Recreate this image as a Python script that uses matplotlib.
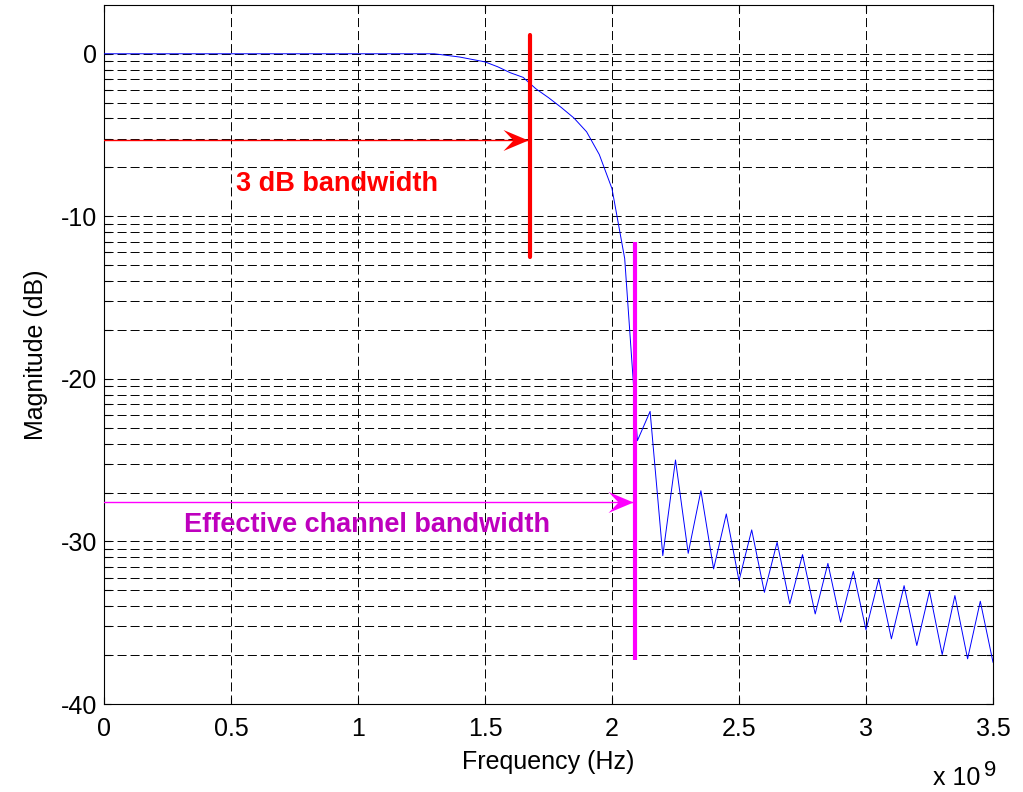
import numpy as np
import matplotlib
matplotlib.use('Agg')
import matplotlib.pyplot as plt
from matplotlib.path import Path
from matplotlib.ticker import FixedLocator

plt.rcParams['font.family'] = ['Liberation Sans', 'DejaVu Sans']
plt.rcParams['axes.unicode_minus'] = False

# Data: frequency in units of 1e9 Hz, magnitude in dB
freq = [0.00, 1.30, 1.35, 1.40, 1.45, 1.50, 1.55, 1.60, 1.65, 1.70, 1.75,
        1.80, 1.85, 1.90, 1.95, 2.00, 2.05, 2.10, 2.15, 2.20, 2.25, 2.30,
        2.35, 2.40, 2.45, 2.50, 2.55, 2.60, 2.65, 2.70, 2.75, 2.80, 2.85,
        2.90, 2.95, 3.00, 3.05, 3.10, 3.15, 3.20, 3.25, 3.30, 3.35, 3.40,
        3.45, 3.50]
mag = [0.0, 0.0, -0.1, -0.2, -0.35, -0.5, -0.8, -1.17, -1.45, -2.15, -2.7,
       -3.3, -3.95, -4.8, -6.2, -8.3, -12.6, -23.8, -22.0, -30.87, -24.99, -30.73,
       -26.88, -31.69, -28.31, -32.41, -29.29, -33.13, -30.05, -33.84, -30.81, -34.46, -31.35,
       -34.97, -31.84, -35.44, -32.31, -35.99, -32.72, -36.40, -33.07, -36.96, -33.33, -37.22,
       -33.68, -37.43]

# markers for the two bandwidths
bw3_freq = 1.679
bw3_span = [1.15, -12.5]
bw3_level = -5.3
eff_freq = 2.091
eff_span = [-11.55, -37.3]
eff_level = -27.6

xticks = [0, 0.5, 1, 1.5, 2, 2.5, 3, 3.5]
xticklabels = ['0', '0.5', '1', '1.5', '2', '2.5', '3', '3.5']
yticks = [-40, -30, -20, -10, 0]

fig = plt.figure(figsize=(10.23, 7.92), dpi=100)
ax = fig.add_axes([104 / 1023, 1 - 704 / 792, 889 / 1023, 699 / 792])

ax.plot(freq, mag, color='#0000FF', lw=0.7, zorder=3)

# notched arrow head, tip at the origin
head = Path([(0, 0), (-1, 0.42), (-0.6, 0), (-1, -0.42), (0, 0)],
            [Path.MOVETO, Path.LINETO, Path.LINETO, Path.LINETO, Path.CLOSEPOLY])

ax.plot([0, bw3_freq - 0.01], [bw3_level, bw3_level], color='#FF0000', lw=1, zorder=4)
ax.plot([bw3_freq - 0.01], [bw3_level], marker=head, ms=36, color='#FF0000',
        mec='none', zorder=4)
ax.plot([bw3_freq, bw3_freq], bw3_span, color='#FF0000', lw=3, zorder=5,
        solid_capstyle='round')

ax.plot([0, eff_freq - 0.01], [eff_level, eff_level], color='#FF00FF', lw=1, zorder=4)
ax.plot([eff_freq - 0.01], [eff_level], marker=head, ms=36, color='#FF00FF',
        mec='none', zorder=4)
ax.plot([eff_freq, eff_freq], eff_span, color='#FF00FF', lw=3, zorder=5,
        solid_capstyle='butt')

ax.text(0.52, -8.44, '3 dB bandwidth', color='#FF0000', fontsize=19.5,
        fontweight='bold', va='baseline', ha='left', zorder=6)
ax.text(0.315, -29.44, 'Effective channel bandwidth', color='#BE00BE', fontsize=19.5,
        fontweight='bold', va='baseline', ha='left', zorder=6)

ax.set_xlim(0, 3.5)
ax.set_ylim(-40, 3)
ax.set_xticks(xticks)
ax.set_xticklabels(xticklabels)
ax.set_yticks(yticks)

# log-style minor grid within each 10 dB decade
minor = []
for top in [0, -10, -20, -30]:
    for k in range(2, 10):
        minor.append(top - 10 * (1 - np.log10(k)))
ax.yaxis.set_minor_locator(FixedLocator(minor))

ax.set_axisbelow(True)
ax.grid(True, which='both', color='k', linestyle=(0, (9.3, 4.1)), linewidth=0.7)
ax.tick_params(which='both', direction='in', top=True, right=True,
               length=5, width=0.8, labelsize=18)
ax.tick_params(axis='x', pad=9)
ax.tick_params(axis='y', pad=5)
for s in ax.spines.values():
    s.set_linewidth(0.8)

ax.set_xlabel('Frequency (Hz)', fontsize=18, labelpad=7)
ax.set_ylabel('Magnitude (dB)', fontsize=18, labelpad=9)

fig.text(933 / 1023, 1 - 785 / 792, 'x 10', fontsize=18, ha='left', va='baseline')
fig.text(984 / 1023, 1 - 776 / 792, '9', fontsize=16, ha='left', va='baseline')

fig.savefig('out.png', dpi=100)
